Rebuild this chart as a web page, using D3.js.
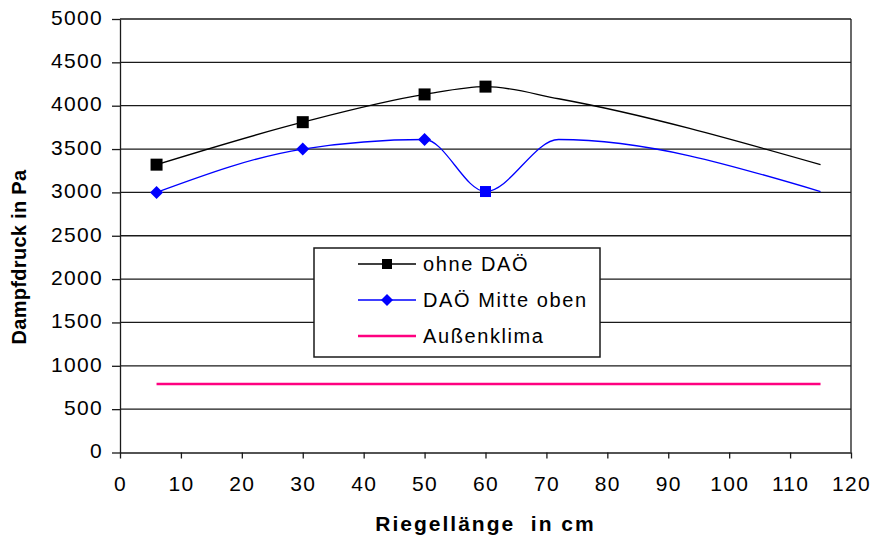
<!DOCTYPE html>
<html>
<head>
<meta charset="utf-8">
<script src="https://cdn.jsdelivr.net/npm/d3@7"></script>
<style>
  body { margin: 0; background: #fff; }
  svg { display: block; }
  text { font-family: "Liberation Sans", Arial, sans-serif; fill: #000; }
</style>
</head>
<body>
<svg id="chart" width="871" height="543"></svg>
<script>
// Axis ticks
const xTicks = [0, 10, 20, 30, 40, 50, 60, 70, 80, 90, 100, 110, 120];
const yTicks = [0, 500, 1000, 1500, 2000, 2500, 3000, 3500, 4000, 4500, 5000];

// Series: ohne DAÖ (measured positions; markers only on the first four)
const ohneX = [6, 30, 50, 60, 72, 115];
const ohneY = [3320, 3810, 4130, 4220, 4080, 3320];
const ohneMarker = ["square", "square", "square", "square", null, null];

// Series: DAÖ Mitte oben
const mitteX = [6, 30, 50, 60, 72, 115];
const mitteY = [3000, 3500, 3610, 3010, 3610, 3010];
const mitteMarker = ["diamond", "diamond", "diamond", "square", null, null];

// Series: Außenklima
const aussenX = [6, 115];
const aussenY = [790, 790];

const seriesNames = ["ohne DAÖ", "DAÖ Mitte oben", "Außenklima"];
const xTitle = "Riegellänge\u00a0\u00a0in cm";
const yTitle = "Dampfdruck in Pa";

const svg = d3.select("#chart");
const x = d3.scaleLinear().domain([0, 120]).range([120, 851]);
const y = d3.scaleLinear().domain([0, 5000]).range([452.5, 19]);

const gridColor = "#1a1a1a";

// horizontal gridlines
svg.append("g").selectAll("line").data(yTicks.filter(d => d > 0)).join("line")
  .attr("x1", x(0)).attr("x2", x(120))
  .attr("y1", d => y(d)).attr("y2", d => y(d))
  .attr("stroke", gridColor).attr("stroke-width", 1.3);

// right border of plot area
svg.append("line")
  .attr("x1", x(120)).attr("x2", x(120)).attr("y1", y(5000)).attr("y2", y(0))
  .attr("stroke", gridColor).attr("stroke-width", 1.3);

// y axis
const yAxis = svg.append("g")
  .attr("transform", `translate(${x(0)},0)`)
  .call(d3.axisLeft(y).tickValues(yTicks).tickSize(8).tickSizeOuter(0).tickPadding(10).tickFormat(d3.format("d")));
// x axis
const xAxis = svg.append("g")
  .attr("transform", `translate(0,${y(0)})`)
  .call(d3.axisBottom(x).tickValues(xTicks).tickSize(6).tickSizeOuter(0).tickPadding(14).tickFormat(d3.format("d")));

[yAxis, xAxis].forEach(g => {
  g.select(".domain").attr("stroke", gridColor).attr("stroke-width", 1.3);
  g.selectAll(".tick line").attr("stroke", gridColor).attr("stroke-width", 1.3);
  g.selectAll(".tick text")
    .attr("font-family", "'Liberation Sans', Arial, sans-serif")
    .attr("font-size", 21).attr("fill", "#000")
    .attr("letter-spacing", 1.3);
});
yAxis.selectAll(".tick text").attr("dy", "0.25em").attr("x", -17);
xAxis.selectAll(".tick text").attr("dy", "0.71em").attr("y", 24);

// axis titles
svg.append("text")
  .attr("x", (x(0) + x(120)) / 2).attr("y", 531)
  .attr("text-anchor", "middle")
  .attr("font-size", 21).attr("font-weight", "bold").attr("letter-spacing", 2)
  .text(xTitle);
svg.append("text")
  .attr("transform", "translate(26,257) rotate(-90)")
  .attr("text-anchor", "middle")
  .attr("font-size", 20).attr("font-weight", "bold").attr("letter-spacing", 0.3)
  .text(yTitle);

// smoothed lines
const line = d3.line().x(d => x(d[0])).y(d => y(d[1])).curve(d3.curveMonotoneX);
const ohneData = ohneX.map((v, i) => [v, ohneY[i], ohneMarker[i]]);
const mitteData = mitteX.map((v, i) => [v, mitteY[i], mitteMarker[i]]);
const aussenData = aussenX.map((v, i) => [v, aussenY[i]]);

svg.append("path").datum(aussenData).attr("d", line)
  .attr("fill", "none").attr("stroke", "#ff0080").attr("stroke-width", 2.4);
svg.append("path").datum(mitteData).attr("d", line)
  .attr("fill", "none").attr("stroke", "#0000ff").attr("stroke-width", 1.3);
svg.append("path").datum(ohneData).attr("d", line)
  .attr("fill", "none").attr("stroke", "#000").attr("stroke-width", 1.3);

function drawMarker(g, type, cx, cy, size, color) {
  if (type === "square") {
    g.append("rect").attr("x", cx - size / 2).attr("y", cy - size / 2)
      .attr("width", size).attr("height", size).attr("fill", color);
  } else if (type === "diamond") {
    const r = size / 2 + 1;
    g.append("path").attr("d", `M${cx},${cy - r}L${cx + r},${cy}L${cx},${cy + r}L${cx - r},${cy}Z`)
      .attr("fill", color);
  }
}
const markers = svg.append("g");
mitteData.forEach(d => { if (d[2]) drawMarker(markers, d[2], x(d[0]), y(d[1]), 11, "#0000ff"); });
ohneData.forEach(d => { if (d[2]) drawMarker(markers, d[2], x(d[0]), y(d[1]), 12, "#000"); });

// legend
const lg = svg.append("g");
lg.append("rect").attr("x", 314).attr("y", 248).attr("width", 286).attr("height", 109)
  .attr("fill", "#fff").attr("stroke", gridColor).attr("stroke-width", 1.5);
const legendItems = [
  { name: seriesNames[0], color: "#000", width: 1.3, marker: "square" },
  { name: seriesNames[1], color: "#0000ff", width: 1.3, marker: "diamond" },
  { name: seriesNames[2], color: "#ff0080", width: 2.4, marker: null }
];
legendItems.forEach((item, i) => {
  const cy = 264 + i * 36;
  lg.append("line").attr("x1", 358).attr("x2", 416).attr("y1", cy).attr("y2", cy)
    .attr("stroke", item.color).attr("stroke-width", item.width);
  if (item.marker) drawMarker(lg, item.marker, 387, cy, 10, item.color);
  lg.append("text").attr("x", 423).attr("y", cy + 7)
    .attr("font-size", 20).attr("letter-spacing", 1.6)
    .text(item.name);
});
</script>
</body>
</html>
